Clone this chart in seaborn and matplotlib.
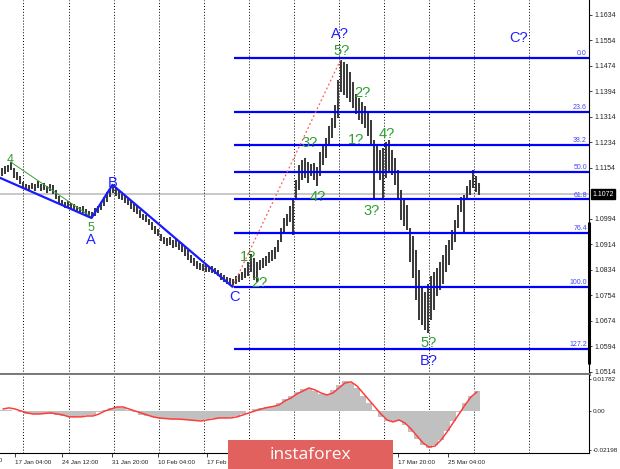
import matplotlib
matplotlib.use("Agg")
import matplotlib.pyplot as plt
import seaborn as sns
from matplotlib.patches import Rectangle

# price bars (H4), one entry per drawn bar
bar_high = [
    1.1154, 1.1160, 1.1163, 1.1173, 1.1154, 1.1141, 1.1129, 1.1110, 1.1104, 1.1101,
    1.1107, 1.1104, 1.1113, 1.1104, 1.1107, 1.1098, 1.1104, 1.1101, 1.1085, 1.1066,
    1.1054, 1.1047, 1.1050, 1.1044, 1.1041, 1.1035, 1.1032, 1.1035, 1.1025, 1.1019,
    1.1016, 1.1029, 1.1035, 1.1047, 1.1063, 1.1079, 1.1091, 1.1101, 1.1094, 1.1085,
    1.1072, 1.1066, 1.1060, 1.1050, 1.1041, 1.1038, 1.1022, 1.1010, 1.1007, 1.0994,
    1.0985, 1.0972, 1.0963, 1.0947, 1.0938, 1.0934, 1.0938, 1.0928, 1.0934, 1.0925,
    1.0919, 1.0906, 1.0897, 1.0881, 1.0872, 1.0862, 1.0856, 1.0853, 1.0850, 1.0843,
    1.0847, 1.0840, 1.0834, 1.0825, 1.0818, 1.0812, 1.0809, 1.0806, 1.0815, 1.0821,
    1.0828, 1.0840, 1.0859, 1.0884, 1.0872, 1.0859, 1.0865, 1.0872, 1.0878, 1.0891,
    1.0897, 1.0906, 1.0928, 1.0966, 1.0997, 1.1010, 1.1035, 1.1054, 1.1116, 1.1163,
    1.1179, 1.1185, 1.1173, 1.1166, 1.1170, 1.1157, 1.1204, 1.1226, 1.1248, 1.1286,
    1.1311, 1.1352, 1.1430, 1.1493, 1.1487, 1.1480, 1.1455, 1.1424, 1.1386, 1.1374,
    1.1361, 1.1349, 1.1330, 1.1305, 1.1242, 1.1223, 1.1210, 1.1217, 1.1235, 1.1242,
    1.1210, 1.1185, 1.1148, 1.1085, 1.1054, 1.1038, 1.0966, 1.0941, 1.0897, 1.0834,
    1.0778, 1.0765, 1.0790, 1.0815, 1.0828, 1.0840, 1.0859, 1.0881, 1.0913, 1.0928,
    1.0960, 1.0991, 1.1038, 1.1063, 1.1069, 1.1098, 1.1116, 1.1148, 1.1129, 1.1107,
]
bar_low = [
    1.1129, 1.1135, 1.1141, 1.1148, 1.1123, 1.1116, 1.1104, 1.1088, 1.1085, 1.1082,
    1.1088, 1.1082, 1.1091, 1.1082, 1.1085, 1.1076, 1.1082, 1.1072, 1.1057, 1.1044,
    1.1035, 1.1029, 1.1032, 1.1025, 1.1022, 1.1019, 1.1016, 1.1013, 1.1007, 1.1000,
    1.0997, 1.1003, 1.1013, 1.1022, 1.1035, 1.1047, 1.1063, 1.1076, 1.1066, 1.1057,
    1.1054, 1.1044, 1.1038, 1.1025, 1.1016, 1.1010, 1.0997, 1.0991, 1.0985, 1.0975,
    1.0960, 1.0947, 1.0941, 1.0925, 1.0916, 1.0909, 1.0912, 1.0903, 1.0906, 1.0897,
    1.0891, 1.0878, 1.0865, 1.0856, 1.0847, 1.0837, 1.0834, 1.0831, 1.0828, 1.0828,
    1.0825, 1.0821, 1.0815, 1.0803, 1.0796, 1.0790, 1.0787, 1.0781, 1.0790, 1.0796,
    1.0803, 1.0809, 1.0815, 1.0828, 1.0803, 1.0796, 1.0834, 1.0840, 1.0847, 1.0856,
    1.0862, 1.0869, 1.0891, 1.0922, 1.0953, 1.0972, 1.0985, 1.0944, 1.1060, 1.1085,
    1.1116, 1.1123, 1.1107, 1.1129, 1.1116, 1.1098, 1.1129, 1.1163, 1.1185, 1.1223,
    1.1248, 1.1280, 1.1311, 1.1392, 1.1383, 1.1374, 1.1361, 1.1342, 1.1323, 1.1305,
    1.1292, 1.1280, 1.1255, 1.1226, 1.1060, 1.1141, 1.1116, 1.1060, 1.1123, 1.1141,
    1.1132, 1.1101, 1.1054, 1.0991, 1.0972, 1.0960, 1.0859, 1.0809, 1.0740, 1.0677,
    1.0662, 1.0646, 1.0636, 1.0677, 1.0709, 1.0752, 1.0771, 1.0790, 1.0828, 1.0850,
    1.0897, 1.0922, 1.0966, 1.1016, 1.0953, 1.1054, 1.1069, 1.1091, 1.1079, 1.1069,
]

# MACD sub-window, one value for every two price bars
macd_hist = [
    0.0005, 0.0005, -0.0003, -0.0008, -0.0015, -0.0017, -0.0015, -0.0014, -0.0016, -0.0022,
    -0.0028, -0.0033, -0.0033, -0.0030, -0.0025, -0.0020, -0.0008, 0.0008, 0.0018, 0.0022,
    0.0018, 0.0005, -0.0008, -0.0020, -0.0030, -0.0036, -0.0040, -0.0042, -0.0044, -0.0045,
    -0.0048, -0.0050, -0.0054, -0.0052, -0.0046, -0.0042, -0.0040, -0.0040, -0.0036, -0.0028,
    -0.0015, -0.0003, 0.0010, 0.0018, 0.0022, 0.0030, 0.0045, 0.0068, 0.0085, 0.0105,
    0.0122, 0.0125, 0.0110, 0.0095, 0.0095, 0.0115, 0.0145, 0.0165, 0.0155, 0.0125,
    0.0085, 0.0045, 0.0005, -0.0035, -0.0058, -0.0060, -0.0055, -0.0080, -0.0118, -0.0155,
    -0.0190, -0.0205, -0.0192, -0.0160, -0.0110, -0.0058, -0.0005, 0.0045, 0.0085, 0.0110,
]
macd_signal = [
    0.0011, 0.0017, 0.0011, 0.0000, -0.0011, -0.0017, -0.0017, -0.0014, -0.0011, -0.0017,
    -0.0022, -0.0033, -0.0033, -0.0033, -0.0028, -0.0028, -0.0017, 0.0000, 0.0011, 0.0022,
    0.0022, 0.0011, 0.0000, -0.0011, -0.0022, -0.0033, -0.0039, -0.0042, -0.0045, -0.0045,
    -0.0047, -0.0050, -0.0053, -0.0056, -0.0050, -0.0045, -0.0039, -0.0039, -0.0039, -0.0033,
    -0.0022, -0.0011, 0.0000, 0.0011, 0.0019, 0.0025, 0.0033, 0.0056, 0.0072, 0.0095,
    0.0111, 0.0128, 0.0117, 0.0100, 0.0089, 0.0100, 0.0128, 0.0156, 0.0162, 0.0139,
    0.0100, 0.0061, 0.0022, -0.0017, -0.0050, -0.0061, -0.0050, -0.0067, -0.0100, -0.0139,
    -0.0178, -0.0201, -0.0195, -0.0162, -0.0117, -0.0067, -0.0017, 0.0033, 0.0078, 0.0106,
]

fib_names = ["0.0", "23.6", "38.2", "50.0", "61.8", "76.4", "100.0", "127.2"]
fib_prices = [1.1499, 1.1330, 1.1225, 1.1140, 1.1055, 1.0950, 1.0781, 1.0586]
fib_start = 77.5

# A-B-C trend line, sub-wave line and the dotted projection
wave_x = [-0.5, 30, 37, 77]
wave_y = [1.1123, 1.0997, 1.1101, 1.0781]
sub_x = [3, 30]
sub_y = [1.1173, 1.1000]
proj_x = [77, 113]
proj_y = [1.0781, 1.1493]

wave_text = ["4", "5", "A", "B", "C", "1?", "2?", "3?", "4?", "A?", "5?",
             "2?", "1?", "4?", "3?", "5?", "B?", "C?"]
wave_bar = [2.8, 29.8, 29.8, 37.2, 77.8, 82.2, 85.8, 102.8, 105.5, 112.8, 113.2,
            120.2, 118.2, 128.5, 123.5, 142.5, 142.5, 172.5]
wave_price = [1.1179, 1.0966, 1.0928, 1.1107, 1.0749, 1.0875, 1.0793, 1.1233, 1.1063,
              1.1574, 1.1521, 1.1389, 1.1242, 1.1261, 1.1019, 1.0605, 1.0549, 1.1562]
wave_kind = ["g", "g", "b", "b", "b", "g", "g", "g", "g", "b", "g",
             "g", "g", "g", "g", "g", "b", "b"]

price_ticks = [1.1634, 1.1554, 1.1474, 1.1394, 1.1314, 1.1234, 1.1154,
               1.0994, 1.0914, 1.0834, 1.0754, 1.0674, 1.0594, 1.0514]
macd_ticks = [0.01782, 0.0, -0.02198]
macd_tick_labels = ["0.01782", "0.00", "-0.02198"]
last_price = 1.1072

grid_bars = [7.2, 22.5, 37.5, 52.5, 67.5, 82.5, 97.5, 112.5, 127.5, 142.5, 157.5, 175.8]
date_bars = [4.5, 20.2, 36.8, 52.2, 68.5, 132.2, 148.8]
date_labels = ["17 Jan 04:00", "24 Jan 12:00", "31 Jan 20:00", "10 Feb 04:00",
               "17 Feb 12:00", "17 Mar 20:00", "25 Mar 04:00"]

sns.set_theme(style="white")
plt.rcParams["font.family"] = ["Liberation Sans", "DejaVu Sans"]

W, H = 620, 469
X_MAX = 195.83
fig = plt.figure(figsize=(W / 100, H / 100), dpi=100)
ax = fig.add_axes([0, 1 - 373.5 / H, 589 / W, 373.5 / H])
ax2 = fig.add_axes([0, 16 / H, 589 / W, 78 / H])

GREEN = "#2f9f2f"
BLUE = "#2020ff"

# --- price window ---
ax.vlines(range(len(bar_high)), bar_low, bar_high, color="#3c3c3c", lw=1.45, zorder=3)
ax.axhline(last_price, color="#c4c4c4", lw=1.3, zorder=1)
for g in grid_bars:
    ax.axvline(g, color="black", ls=(0, (1, 2)), lw=0.7, zorder=1)
ax.hlines(fib_prices, fib_start, X_MAX, color="#0000ff", lw=1.6, zorder=4)
for name, lvl in zip(fib_names, fib_prices):
    ax.text(X_MAX - 0.7, lvl + 0.0003, name, ha="right", va="bottom",
            fontsize=5, color="#4646ff", zorder=5)
ax.plot(wave_x, wave_y, color="#1a1aff", lw=1.6, zorder=5)
ax.plot(sub_x, sub_y, color="#3aa03a", lw=0.7, zorder=4)
ax.plot(proj_x, proj_y, color="#ff5a5a", lw=0.9, ls=(0, (1.5, 2)), zorder=4)
for t, bx, py, k in zip(wave_text, wave_bar, wave_price, wave_kind):
    size = 9 if t in ("4", "5") else 10.5
    ax.text(bx, py, t, ha="center", va="center", fontsize=size,
            color=GREEN if k == "g" else BLUE, zorder=6)

ax.set_xlim(-0.5, X_MAX)
ax.set_ylim(1.0509, 1.1681)
ax.set_xticks([])
ax.yaxis.tick_right()
ax.set_yticks(price_ticks, [f"{p:.4f}" for p in price_ticks])
ax.tick_params(axis="y", direction="out", length=2.2, width=0.6, pad=1.5,
               labelsize=5, colors="#222222", right=True, left=False)
for s in ("left", "top"):
    ax.spines[s].set_visible(False)
ax.spines["right"].set_color("black")
ax.spines["right"].set_linewidth(0.8)
ax.spines["bottom"].set_color("#7a7a7a")
ax.spines["bottom"].set_linewidth(2.2)
ax.plot([X_MAX, X_MAX], [1.0542, 1.0981], color="black", lw=2.2, clip_on=False, zorder=6)
ax.annotate(f"{last_price:.4f}", xy=(1.0, last_price), xycoords=("axes fraction", "data"),
            xytext=(2.5, 0), textcoords="offset points", ha="left", va="center",
            fontsize=5, color="white",
            bbox=dict(boxstyle="square,pad=0.2", fc="black", ec="black"))

# --- MACD window ---
macd_pos = [0.5 + 2 * k for k in range(len(macd_hist))]
ax2.bar(macd_pos, macd_hist, width=2, color="#c0c0c0", linewidth=0, zorder=2)
sns.lineplot(x=macd_pos, y=macd_signal, ax=ax2, color="#ff3c3c", lw=1.1, zorder=3)
for g in grid_bars:
    ax2.axvline(g, color="black", ls=(0, (1, 2)), lw=0.7, zorder=1)
ax2.set_xlim(-0.5, X_MAX)
ax2.set_ylim(-0.0234, 0.0200)
ax2.yaxis.tick_right()
ax2.set_yticks(macd_ticks, macd_tick_labels)
ax2.set_xticks(date_bars, date_labels)
ax2.tick_params(axis="y", direction="out", length=1.5, width=0.6, pad=1,
                labelsize=4.6, colors="#222222", right=True, left=False)
ax2.tick_params(axis="x", direction="out", length=3, width=0.6, pad=2,
                labelsize=4.5, colors="#222222", bottom=True)
for lbl in ax2.get_xticklabels():
    lbl.set_ha("left")
ax2.annotate("10 Jan 20:00", xy=(-12.5, 0), xycoords=("data", "axes fraction"),
             xytext=(1.5, -3.5), textcoords="offset points", ha="left", va="top",
             fontsize=4.5, color="#222222", annotation_clip=False)
ax2.spines["left"].set_visible(False)
ax2.spines["top"].set_visible(False)
for s in ("right", "bottom"):
    ax2.spines[s].set_color("black")
    ax2.spines[s].set_linewidth(0.8)

# watermark box
fig.patches.append(Rectangle((228 / W, 0), 165 / W, 29 / H, transform=fig.transFigure,
                             facecolor="#e1615e", edgecolor="none", zorder=10))
fig.text(310 / W, 1 - 455 / H, "instaforex", ha="center", va="center", color="white",
         fontsize=12.5, family=["Open Sans", "DejaVu Sans"], zorder=11)

fig.savefig("out.png", dpi=100)
